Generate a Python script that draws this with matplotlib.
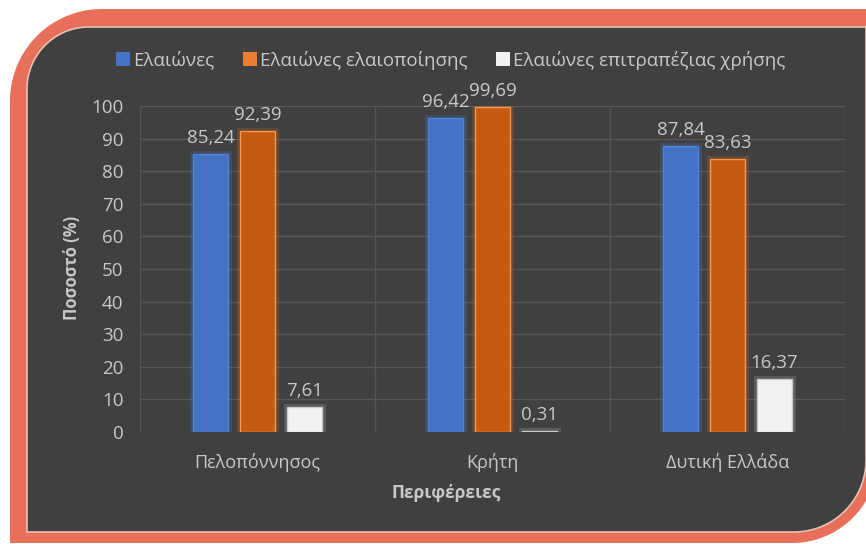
import numpy as np
import matplotlib
matplotlib.use("Agg")
import matplotlib.pyplot as plt
import matplotlib.patheffects as pe
from matplotlib.patches import Polygon, Patch

plt.rcParams['font.family'] = ['Open Sans', 'DejaVu Sans']

regions = ['Πελοπόννησος', 'Κρήτη', 'Δυτική Ελλάδα']
series_names = ['Ελαιώνες', 'Ελαιώνες ελαιοποίησης', 'Ελαιώνες επιτραπέζιας χρήσης']
olive_groves = [85.24, 96.42, 87.84]
oil_groves = [92.39, 99.69, 83.63]
table_groves = [7.61, 0.31, 16.37]

fills = ['#4472c4', '#c55a11', '#f2f2f2']
edges = ['#4f82dc', '#f39a50', '#c8c8c8']
glows = ['#4d7fd8', '#e07020', '#bdbdbd']
legend_fills = ['#4472c4', '#ed7d31', '#f2f2f2']
txt = '#c8c8c8'
dark = '#404040'
coral = '#e8705a'


def rounded(x0, y0, x1, y1, r_tl, r_br, n=40):
    # rounded rectangle in pixel coords (y down), only top-left and bottom-right rounded
    pts = []
    a = np.linspace(np.pi, 1.5 * np.pi, n)
    pts += list(zip(x0 + r_tl + r_tl * np.cos(a), y0 + r_tl + r_tl * np.sin(a)))
    pts += [(x1, y0)]
    a = np.linspace(0, 0.5 * np.pi, n)
    pts += list(zip(x1 - r_br + r_br * np.cos(a), y1 - r_br + r_br * np.sin(a)))
    pts += [(x0, y1)]
    return np.array(pts)


fig = plt.figure(figsize=(8.66, 5.44), dpi=100)
fig.patch.set_facecolor('white')

bg = fig.add_axes([0, 0, 1, 1], zorder=-5)
bg.set_xlim(0, 866)
bg.set_ylim(544, 0)
bg.axis('off')
bg.add_patch(Polygon(rounded(10, 9, 878, 543, 92, 86), closed=True,
                     facecolor=coral, edgecolor='none'))
bg.add_patch(Polygon(rounded(27, 27, 866, 532, 62, 72), closed=True,
                     facecolor=dark, edgecolor='#e6c2b6', linewidth=1.2))

ax = fig.add_axes([140 / 866, 112 / 544, 705 / 866, 326 / 544])
ax.set_facecolor('none')

x = np.arange(len(regions))
width = 0.15
offsets = [-0.2, 0.0, 0.2]
all_series = [olive_groves, oil_groves, table_groves]

for i, vals in enumerate(all_series):
    bars = ax.bar(x + offsets[i], vals, width, color=fills[i], edgecolor=edges[i],
                  linewidth=1.0, zorder=3,
                  path_effects=[pe.withStroke(linewidth=5, foreground=glows[i], alpha=0.22)])
    ax.bar_label(bars, labels=[f'{v:.2f}'.replace('.', ',') for v in vals],
                 padding=5, color=txt, fontsize=13.5)

ax.set_ylim(0, 100)
ax.set_xlim(-0.5, 2.5)
ax.set_yticks(range(0, 101, 10))
ax.set_xticks(x)
ax.set_xticklabels(regions)
for y in range(10, 101, 10):
    ax.axhline(y, color='#595959', linewidth=1, zorder=0)
for xv in [-0.5, 0.5, 1.5, 2.5]:
    ax.axvline(xv, color='#555555', linewidth=1, zorder=0)
for s in ax.spines.values():
    s.set_visible(False)
ax.tick_params(axis='y', length=0, colors=txt, labelsize=13.5, pad=12)
ax.tick_params(axis='x', length=0, colors=txt, labelsize=13, pad=15)

fig.text(72 / 866, 1 - 268 / 544, 'Ποσοστό (%)', rotation=90, ha='center', va='center',
         color=txt, fontsize=12, fontweight='bold')
fig.text(446 / 866, 1 - 493 / 544, 'Περιφέρειες', ha='center', va='center',
         color=txt, fontsize=12.5, fontweight='bold')

handles = [Patch(facecolor=legend_fills[i], edgecolor='none') for i in range(3)]
fig.legend(handles, series_names, loc='center left', bbox_to_anchor=(99 / 866, 1 - 60 / 544),
           ncol=3, frameon=False, fontsize=13.5, labelcolor=txt, handlelength=0.75,
           handleheight=0.75, handletextpad=0.15, columnspacing=1.55)

fig.savefig('out.png', dpi=100, facecolor=fig.get_facecolor())
